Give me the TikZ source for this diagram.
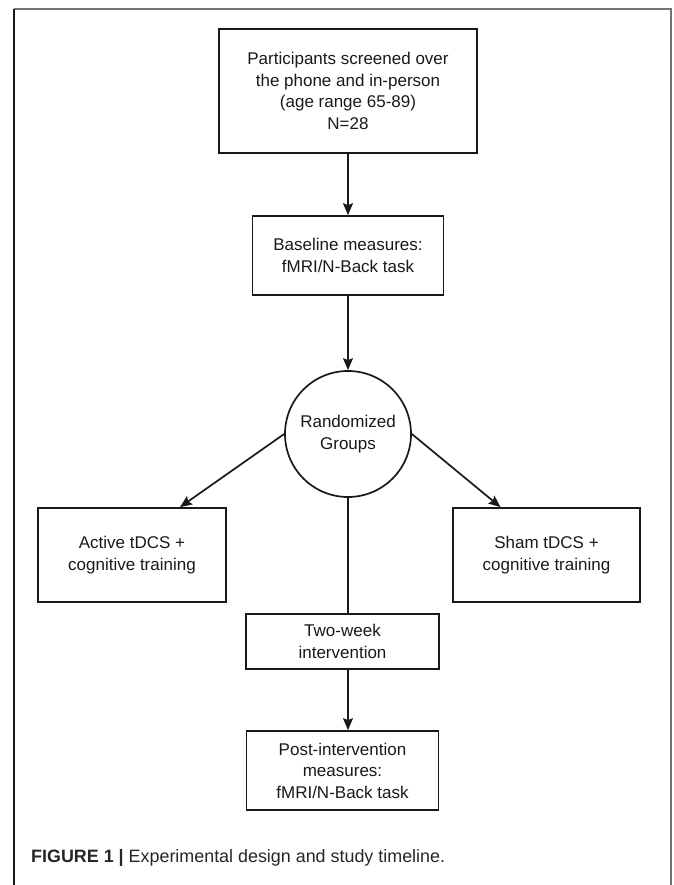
\documentclass[tikz,border=0pt]{standalone}
\usepackage{fontspec}
\setmainfont{Liberation Sans}
\usepackage{tikz}
\usetikzlibrary{arrows.meta}

\begin{document}
\begin{tikzpicture}[x=1pt,y=-1pt]
				\tikzstyle{box}=[draw=black!90,line width=1.7pt,rectangle,inner sep=0pt,align=center,text=black!90,font=\fontsize{17}{21.5}\selectfont]
				\tikzstyle{flow}=[draw=black!90,line width=1.7pt,-{Stealth[length=12pt,width=10pt,inset=2pt]}]
				\useasboundingbox (0,0) rectangle (673,885);
				% outer frame
				\draw[black!55,line width=2pt] (14,9) -- (671,9) -- (671,900);
				\draw[black!90,line width=2pt] (14,9) -- (14,900);

				\node[box,minimum width=258pt,minimum height=124pt](top) at (348,91){Participants screened over\\the phone and in-person\\(age range 65-89)\\N=28};
				\node[box,minimum width=191pt,minimum height=79pt](base) at (348,255.5){Baseline measures:\\fMRI/N-Back task};
				\node[box,circle,minimum size=126pt](rand) at (348,434){Randomized\\Groups};
				\node[box,minimum width=188pt,minimum height=94pt](active) at (132,555){Active tDCS +\\cognitive training};
				\node[box,minimum width=187pt,minimum height=94pt](sham) at (546.5,555){Sham tDCS +\\cognitive training};
				\node[box,minimum width=193pt,minimum height=55pt](two) at (342.5,641.5){Two-week\\intervention};
				\node[box,minimum width=192pt,minimum height=79pt](post) at (342.5,770.5){Post-intervention\\measures:\\fMRI/N-Back task};

				\coordinate(activein) at ([xshift=48pt]active.north);
				\coordinate(shamin) at ([xshift=-46pt]sham.north);

				\path
					(top) edge[flow] node {}(base)
					(base) edge[flow] node {}(rand)
					(rand.west) edge[flow] node {}(activein)
					(rand.east) edge[flow] node {}(shamin)
					(rand.south) edge[flow,-] node {}(rand.south |- two.north)
					(two.south -| rand.south) edge[flow] node {}(post.north -| rand.south);

				\node[anchor=west,inner sep=0pt,font=\fontsize{17.9}{21}\selectfont,text=black!85](caption) at (31,858){\textbf{FIGURE 1 |} Experimental design and study timeline.};
\end{tikzpicture}
\end{document}
